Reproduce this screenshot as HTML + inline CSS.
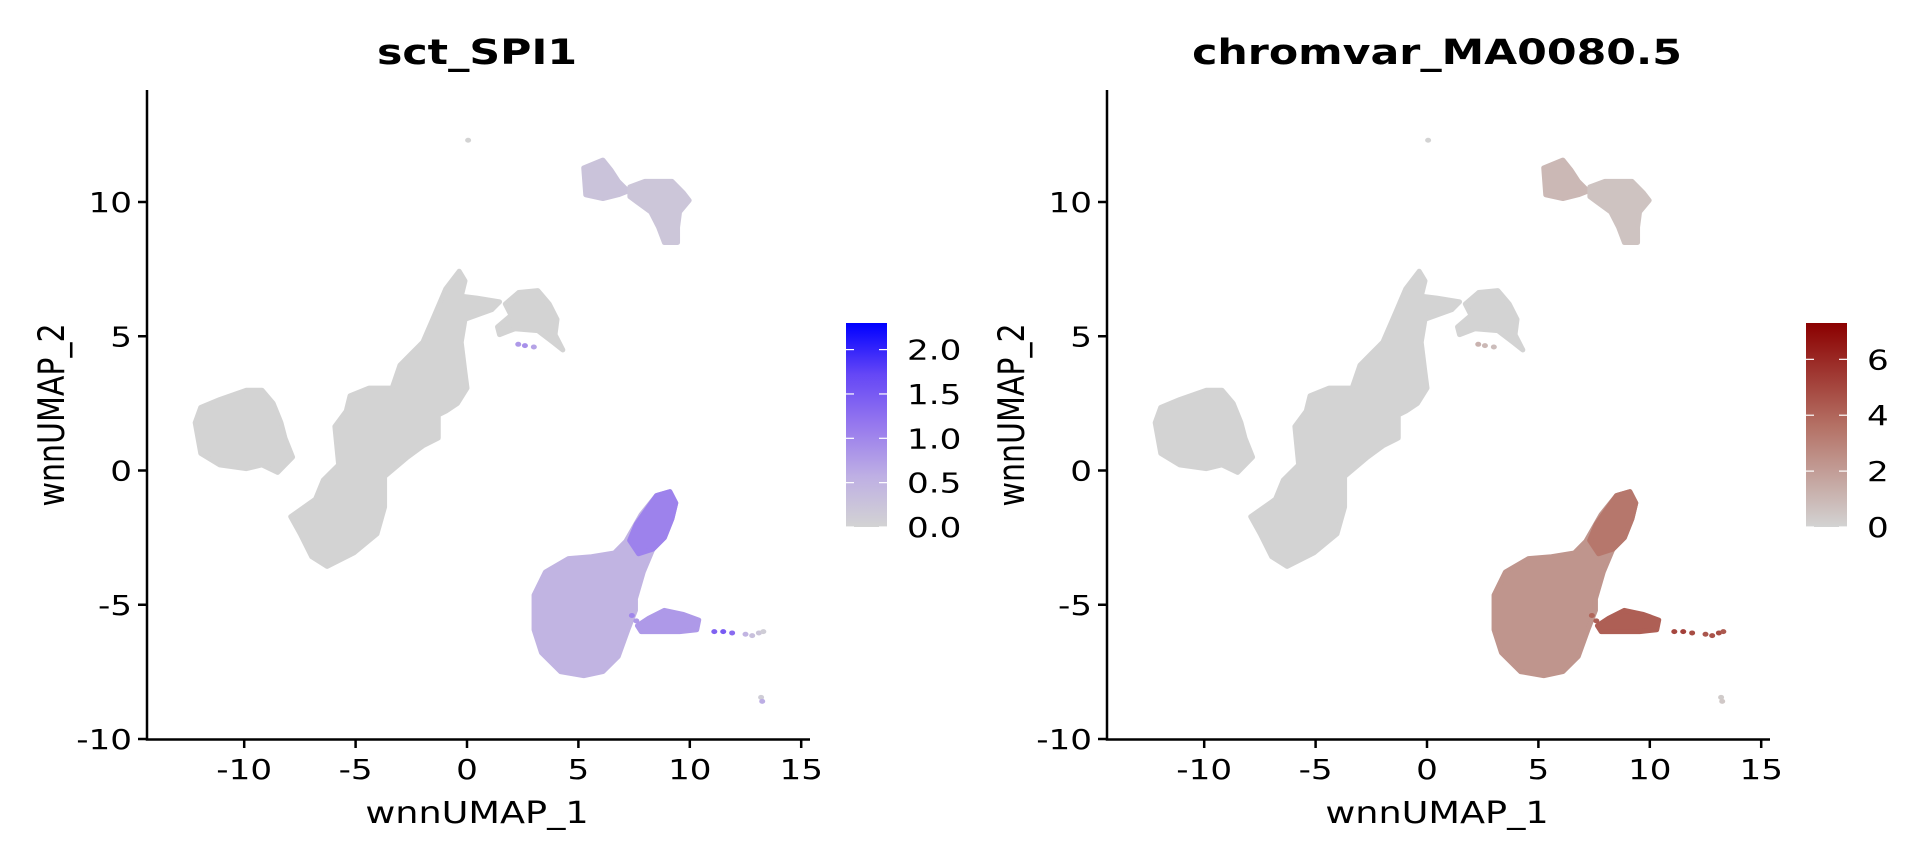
<!DOCTYPE html>
<html><head><meta charset="utf-8"><style>
html,body{margin:0;padding:0;background:#fff;}
svg{display:block;}
text{font-family:"DejaVu Sans","Liberation Sans",sans-serif;fill:#000;}
</style></head>
<body>
<svg id="fig" width="1920" height="865" viewBox="0 0 1920 865" xmlns="http://www.w3.org/2000/svg">
<defs>
<linearGradient id="gBlue" x1="0" y1="1" x2="0" y2="0"><stop offset="0" stop-color="rgb(211,211,211)"/><stop offset="0.25" stop-color="rgb(190,175,228)"/><stop offset="0.5" stop-color="rgb(150,120,238)"/><stop offset="0.75" stop-color="rgb(100,70,246)"/><stop offset="1" stop-color="rgb(0,0,255)"/></linearGradient>
<linearGradient id="gRed" x1="0" y1="1" x2="0" y2="0"><stop offset="0" stop-color="rgb(211,211,211)"/><stop offset="0.5" stop-color="rgb(180,112,100)"/><stop offset="1" stop-color="rgb(139,0,0)"/></linearGradient>
</defs>
</svg>
<script>
// ---- data ----
const xTicks = [-10, -5, 0, 5, 10, 15];
const yTicks = [10, 5, 0, -5, -10];
const clusterNames = ["A","B","C","D1","D2","E","Etip","F"];
const clusterA = [[-12.2,1.78],[-11.95,2.35],[-11.1,2.64],[-9.9,2.99],[-9.2,2.99],[-8.7,2.5],[-8.35,1.78],[-8.17,1.21],[-7.83,0.5],[-8.5,-0.07],[-9.2,0.21],[-9.9,0.07],[-11.1,0.21],[-11.95,0.64]];
const clusterB = [[-7.91,-1.72],[-6.8,-1.07],[-6.45,-0.36],[-5.76,0.21],[-5.93,1.64],[-5.42,2.21],[-5.25,2.78],[-4.39,3.07],[-3.36,3.07],[-3.01,3.92],[-2.5,4.35],[-1.98,4.78],[-1.46,5.78],[-0.95,6.77],[-0.35,7.42],[-0.09,7.06],[-0.26,6.49],[0.43,6.42],[1.46,6.28],[1.11,5.99],[-0.09,5.63],[-0.26,4.78],[-0.09,3.64],[0,3.07],[-0.43,2.5],[-0.95,2.21],[-1.29,2.07],[-1.29,1.21],[-1.98,0.92],[-2.67,0.5],[-3.7,-0.22],[-3.7,-1.36],[-4.04,-2.36],[-5.08,-3.07],[-6.28,-3.57],[-6.97,-3.21],[-7.48,-2.36]];
const clusterC = [[1.72,6.2],[2.32,6.63],[3.18,6.7],[3.69,6.2],[4.04,5.63],[3.95,5.06],[4.3,4.49],[3.86,4.78],[3.18,5.21],[2.15,5.28],[1.46,5.06],[1.37,5.35],[1.98,5.78]];
const clusterD1 = [[5.24,11.27],[6.1,11.56],[6.45,11.2],[6.79,10.77],[7.22,10.41],[6.79,10.27],[6.1,10.13],[5.33,10.27]];
const clusterD2 = [[7.31,10.56],[7.99,10.77],[9.2,10.77],[9.71,10.34],[9.97,10.06],[9.54,9.63],[9.45,9.06],[9.45,8.49],[8.86,8.49],[8.6,9.06],[8.25,9.63],[7.65,9.99],[7.31,10.2]];
const clusterE = [[3.01,-4.64],[3.52,-3.78],[4.56,-3.28],[5.59,-3.21],[6.62,-3.07],[7.13,-2.64],[7.82,-1.64],[8.51,-0.93],[9.11,-0.79],[9.37,-1.21],[9.2,-1.79],[8.86,-2.5],[8.34,-2.93],[7.91,-3.78],[7.56,-4.78],[7.56,-5.21],[7.22,-5.93],[6.79,-6.92],[6.1,-7.49],[5.24,-7.64],[4.2,-7.49],[3.34,-6.78],[3.01,-5.93]];
const clusterEtip = [[7.6,-2.0],[8.51,-0.93],[9.11,-0.79],[9.37,-1.21],[9.2,-1.79],[8.86,-2.5],[8.34,-2.93],[7.7,-3.1],[7.3,-2.6]];
const clusterF = [[7.65,-5.78],[8.16,-5.5],[8.86,-5.21],[9.71,-5.36],[10.4,-5.57],[10.31,-5.93],[9.54,-6.0],[8.68,-6.0],[7.82,-6.0]];
const clusterPolys = [clusterA, clusterB, clusterC, clusterD1, clusterD2, clusterE, clusterEtip, clusterF];
// mean expression per cluster (left: sct_SPI1, right: chromvar)
const valsSPI1 = [0, 0, 0, 0.25, 0.2, 0.5, 1.05, 0.8];
const valsChrom = [0, 0, 0, 1.0, 0.6, 2.3, 3.4, 4.2];
// isolated cells
const cellX = [0.05, 11.1, 11.5, 11.9, 12.5, 12.8, 13.1, 13.3, 13.2, 13.25, 7.4, 7.6, 2.3, 2.6, 3.0];
const cellY = [12.3, -6.0, -6.0, -6.05, -6.1, -6.15, -6.05, -6.0, -8.45, -8.6, -5.4, -5.6, 4.7, 4.65, 4.6];
const cellSPI1 = [0, 1.4, 1.5, 1.3, 0.5, 0.3, 0.2, 0.1, 0.1, 0.6, 1.0, 0.8, 0.8, 0.9, 0.7];
const cellChrom = [0, 5, 5.2, 4.8, 4.5, 4.6, 4.8, 4.4, 0.3, 0.4, 4.0, 4.2, 1.2, 1.0, 0.8];
const spiTicks = [0.0, 0.5, 1.0, 1.5, 2.0];
const spiTickLabels = ["0.0","0.5","1.0","1.5","2.0"];
const chromTicks = [0, 2, 4, 6];
const chromTickLabels = ["0","2","4","6"];
const spiMax = 2.3, chromMax = 7.3;

// ---- layout ----
const NS = "http://www.w3.org/2000/svg";
const svg = document.getElementById('fig');
const SX = 1.22;
function xs(v, ox){ return ox + 467 + 22.28 * v; }
function ys(v){ return 470.5 - 26.85 * v; }
function mk(tag, attrs, parent){ const e = document.createElementNS(NS, tag); for (const k in attrs) e.setAttribute(k, attrs[k]); (parent||svg).appendChild(e); return e; }
const blueStops = [[0,[211,211,211]],[0.25,[190,175,228]],[0.5,[150,120,238]],[0.75,[100,70,246]],[1,[0,0,255]]];
const redStops = [[0,[211,211,211]],[0.5,[180,112,100]],[1,[139,0,0]]];
function ramp(stops, t){
  t = Math.max(0, Math.min(1, t));
  for (let i = 1; i < stops.length; i++) {
    if (t <= stops[i][0]) {
      const a = stops[i-1], b = stops[i], u = (t - a[0]) / (b[0] - a[0]);
      return `rgb(${[0,1,2].map(k => Math.round(a[1][k] + (b[1][k]-a[1][k])*u)).join(',')})`;
    }
  }
  const l = stops[stops.length-1][1]; return `rgb(${l.join(',')})`;
}
function colBlue(v){ return ramp(blueStops, v/spiMax); }
function colRed(v){ return ramp(redStops, v/chromMax); }
function txt(str, x, y, size, anchor, weight, parent, rot){
  const g = mk('g', {transform:`translate(${x},${y}) scale(${SX},1)` + (rot ? ` rotate(${rot})` : '')}, parent);
  const t = mk('text', {x:0, y:0, 'font-size':size, 'text-anchor':anchor, 'font-weight':weight||'normal'}, g);
  t.textContent = str;
  return t;
}

function panel(ox, title, vals, cellVals, colFn, grad, ticks, tickLabels, vmax, pname){
  const g = mk('g', {});
  
  
  clusterPolys.forEach((poly, i) => {
    const p = mk('polygon', {points: poly.map(d => xs(d[0],ox)+','+ys(d[1])).join(' '), fill: colFn(vals[i]), stroke: colFn(vals[i]), 'stroke-width': 5, 'stroke-linejoin':'round'}, g);
    
    
  });
  cellX.forEach((x, i) => {
    const c = mk('ellipse', {cx: xs(x,ox), cy: ys(cellY[i]), rx: 3, ry: 2.5, fill: colFn(cellVals[i])}, g);
    
    
  });
  const ax = mk('path', {d:`M${ox+147},90 V739.5 H${ox+810}`, stroke:'#000', 'stroke-width':2.5, fill:'none'}, g);
  
  
  xTicks.forEach(v => {
    mk('line', {x1:xs(v,ox), x2:xs(v,ox), y1:739, y2:748, stroke:'#000', 'stroke-width':2.5}, g);
    const t = txt(String(v), xs(v,ox), 779, 28, 'middle', 'normal', g);
    
    
  });
  yTicks.forEach(v => {
    mk('line', {x1:ox+138, x2:ox+147, y1:ys(v), y2:ys(v), stroke:'#000', 'stroke-width':2.5}, g);
    const t = txt(String(v), ox+132, ys(v)+10, 28, 'end', 'normal', g);
    
    
  });
  const tt = txt(title, ox+477, 64, 35, 'middle', 'bold', g);
  
  
  const xt = txt('wnnUMAP_1', ox+477, 823, 30, 'middle', 'normal', g);
  
  
  const yt = txt('wnnUMAP_2', ox+64, 415, 30, 'middle', 'normal', g, -90);
  
  
  const cb = mk('rect', {x:ox+846, y:323, width:41, height:204, fill:`url(#${grad})`}, g);
  
  
  ticks.forEach((v, i) => {
    const y = 527 - v / vmax * 204;
    mk('line', {x1:ox+846, x2:ox+854, y1:y, y2:y, stroke:'#fff', 'stroke-width':1.2}, g);
    mk('line', {x1:ox+879, x2:ox+887, y1:y, y2:y, stroke:'#fff', 'stroke-width':1.2}, g);
    const t = txt(tickLabels[i], ox+907, y+10, 28, 'start', 'normal', g);
    
    
  });
}
panel(0, 'sct_SPI1', valsSPI1, cellSPI1, colBlue, 'gBlue', spiTicks, spiTickLabels, spiMax, 'sct-spi1');
panel(960, 'chromvar_MA0080.5', valsChrom, cellChrom, colRed, 'gRed', chromTicks, chromTickLabels, chromMax, 'chromvar');
</script>
</body></html>
